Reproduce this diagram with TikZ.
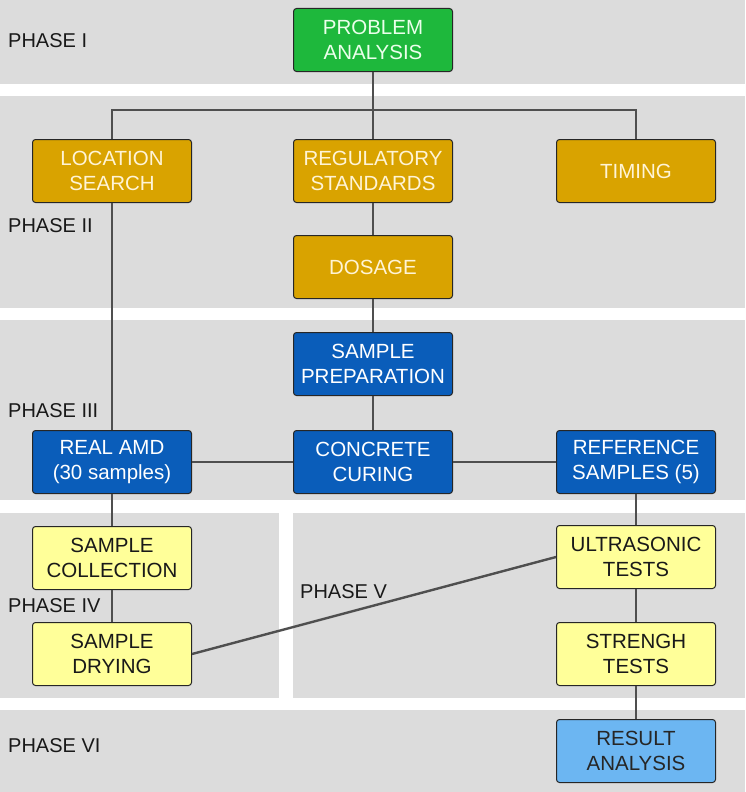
\documentclass[tikz,border=0pt]{standalone}
\usepackage{fontspec}
\setmainfont{Liberation Sans}
\usepackage{tikz}
\usetikzlibrary{shapes}

\definecolor{bandgray}{HTML}{DCDCDC}
\definecolor{boxgreen}{HTML}{1EB83C}
\definecolor{boxgold}{HTML}{D9A300}
\definecolor{boxblue}{HTML}{0A5DBA}
\definecolor{boxyellow}{HTML}{FFFF99}
\definecolor{boxsky}{HTML}{6CB6F2}
\definecolor{linkgray}{HTML}{4F4F4F}
\definecolor{creamtext}{HTML}{FFF4D6}

\begin{document}
\begin{tikzpicture}[x=1pt,y=-1pt,
  box/.style={shape=rectangle,draw=black!85,align=center,line width=1pt,rounded corners=3pt,
    minimum width=159pt,minimum height=63pt,font=\fontsize{20.5}{24.5}\selectfont},
  greenbox/.style={box,fill=boxgreen,text=green!8},
  goldbox/.style={box,fill=boxgold,text=creamtext},
  bluebox/.style={box,fill=boxblue,text=white},
  yellowbox/.style={box,fill=boxyellow,text=black!90},
  skybox/.style={box,fill=boxsky,text=black!85},
  phase/.style={anchor=west,inner sep=0pt,font=\fontsize{20}{24}\selectfont,text=black!90},
  link/.style={-,draw=linkgray,line width=2.4pt}]
\useasboundingbox (0,0) rectangle (745,792);
% phase bands
\fill[bandgray] (0,0) rectangle (745,84);
\fill[bandgray] (0,96) rectangle (745,308);
\fill[bandgray] (0,320) rectangle (745,500);
\fill[bandgray] (0,513) rectangle (279,698);
\fill[bandgray] (293,513) rectangle (745,698);
\fill[bandgray] (0,710) rectangle (745,792);

\node[phase] (p1) at (8,41) {PHASE I};
\node[phase] (p2) at (8,226) {PHASE II};
\node[phase] (p3) at (8,411) {PHASE III};
\node[phase] (p4) at (8,606) {PHASE IV};
\node[phase] (p5) at (300,592) {PHASE V};
\node[phase] (p6) at (8,746) {PHASE VI};

% boxes
\node[greenbox] (0) at (373,40) {PROBLEM\\ANALYSIS};
\node[goldbox] (1) at (112,171) {LOCATION\\SEARCH};
\node[goldbox] (2) at (373,171) {REGULATORY\\STANDARDS};
\node[goldbox] (3) at (636,171) {TIMING};
\node[goldbox] (4) at (373,267) {DOSAGE};
\node[bluebox] (5) at (373,364) {SAMPLE\\PREPARATION};
\node[bluebox] (6) at (112,462) {REAL AMD\\(30 samples)};
\node[bluebox] (7) at (373,462) {CONCRETE\\CURING};
\node[bluebox] (8) at (636,462) {REFERENCE\\SAMPLES (5)};
\node[yellowbox] (9) at (112,558) {SAMPLE\\COLLECTION};
\node[yellowbox] (10) at (112,654) {SAMPLE\\DRYING};
\node[yellowbox] (11) at (636,557) {ULTRASONIC\\TESTS};
\node[yellowbox] (12) at (636,654) {STRENGH\\TESTS};
\node[skybox] (13) at (636,751) {RESULT\\ANALYSIS};

\coordinate (j) at (373,110);

% links
\path [link] (0) edge node {} (j);
\path [link] (j) -| (1);
\path [link] (j) -| (3);
\path [link] (j) -- (2);
\path [link] (2) edge node {} (4);
\path [link] (4) edge node {} (5);
\path [link] (5) edge node {} (7);
\path [link] (1) edge node {} (6);
\path [link] (6) edge node {} (7);
\path [link] (7) edge node {} (8);
\path [link] (6) edge node {} (9);
\path [link] (9) edge node {} (10);
\path [link] (10.east) edge node {} (11.west);
\path [link] (8) edge node {} (11);
\path [link] (11) edge node {} (12);
\path [link] (12) edge node {} (13);
\end{tikzpicture}
\end{document}
